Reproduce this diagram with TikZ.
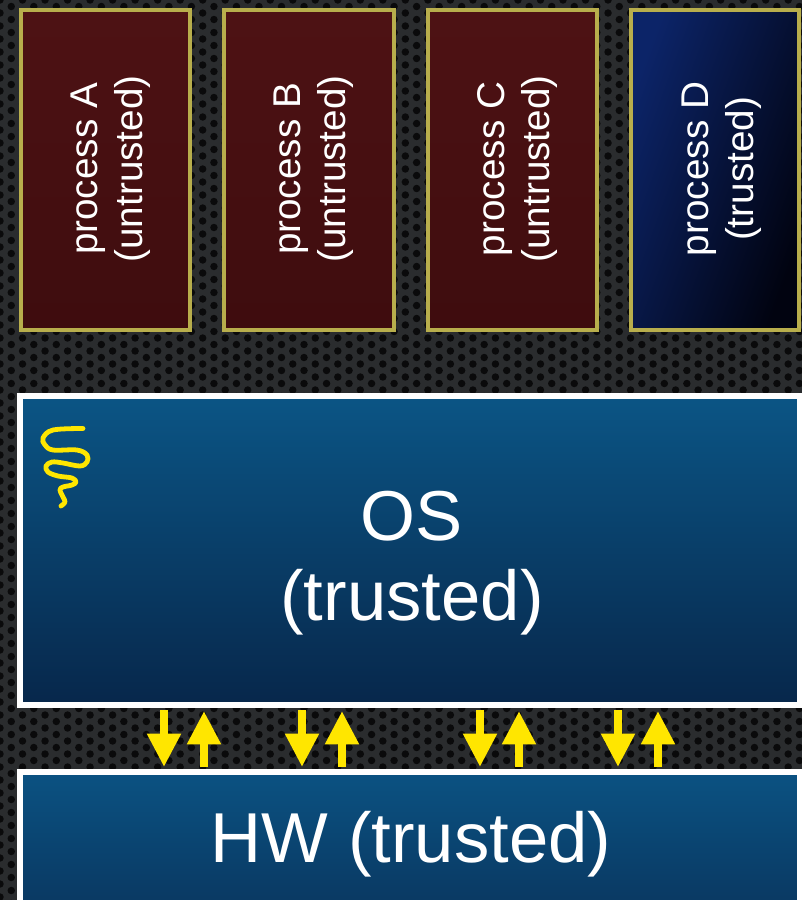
\documentclass[tikz,border=0pt]{standalone}
\usepackage{fontspec}
\setmainfont{Liberation Sans}
\usetikzlibrary{arrows.meta,fit}
\definecolor{bgbase}{HTML}{2A2C2E}
\definecolor{bgdot}{HTML}{0A0A0B}
\definecolor{procborder}{HTML}{B8AE4C}
\definecolor{redtop}{HTML}{4E1214}
\definecolor{redbot}{HTML}{3E0C0E}
\definecolor{bluetop}{HTML}{0C2468}
\definecolor{bluebot}{HTML}{010310}
\definecolor{ostop}{HTML}{0B5585}
\definecolor{osbot}{HTML}{07274B}
\definecolor{hwtop}{HTML}{0B5282}
\definecolor{hwbot}{HTML}{092E55}
\definecolor{arrowyellow}{HTML}{FFE600}
\tikzset{
  procbox/.style={draw=procborder, line width=3pt, inner sep=0pt},
  redfill/.style={top color=redtop, bottom color=redbot},
  bluefill/.style={top color=bluetop, bottom color=bluebot, shading angle=70},
  layerbox/.style={draw=white, line width=4.5pt, inner sep=0pt},
  ptext/.style={text=white, font=\fontsize{29}{35}\selectfont, inner sep=0pt, rotate=90, anchor=base},
  btext/.style={text=white, font=\fontsize{53}{60}\selectfont, inner sep=0pt, anchor=base},
  yarrow/.style={draw=arrowyellow, line width=6pt, -{Triangle[width=24pt,length=25pt]}},
  squig/.style={draw=arrowyellow, line width=3.6pt, line cap=round, line join=round}
}
\begin{document}
\begin{tikzpicture}[x=0.75pt,y=-0.75pt]
\useasboundingbox (0,0) rectangle (802,900);
\clip (0,0) rectangle (802,900);
\fill[bgbase] (0,0) rectangle (802,900);
\foreach \i in {0,...,71} {
  \foreach \j in {0,...,70} {
    \fill[bgdot] ({\i*11.26},{\j*13+mod(\i,2)*6.5}) circle (2.8pt);
  }
}
% process boxes
\node[procbox, redfill, fit={(20.5,9.5)(190,329.5)}] (pa) {};
\node[procbox, redfill, fit={(224,9.5)(393.5,329.5)}] (pb) {};
\node[procbox, redfill, fit={(427.5,9.5)(597,329.5)}] (pc) {};
\node[procbox, bluefill, fit={(631,9.5)(798.5,329.5)}] (pd) {};
\node[ptext] (pa1) at (97,169) {process A};
\node[ptext] (pa2) at (142,169) {(untrusted)};
\node[ptext] (pb1) at (300.5,169) {process B};
\node[ptext] (pb2) at (345.5,169) {(untrusted)};
\node[ptext] (pc1) at (504,169) {process C};
\node[ptext] (pc2) at (549,169) {(untrusted)};
\node[ptext] (pd1) at (708,169) {process D};
\node[ptext] (pd2) at (753,169) {(trusted)};
% OS and HW
\node[layerbox, top color=ostop, bottom color=osbot, fit={(20,396)(800,705)}] (os) {};
\node[layerbox, top color=hwtop, bottom color=hwbot, fit={(20,772)(800,960)}] (hw) {};
\node[btext] (os1) at (412,540) {OS};
\node[btext] (os2) at (412,620) {(trusted)};
\node[btext] (hw1) at (411,862) {HW (trusted)};
% squiggle
\draw[squig] plot[smooth, tension=0.6] coordinates {(83,428.5) (53,430) (43,438) (45,445) (53,450) (77,450) (87,455) (87,462) (80,466) (63,463) (52,462) (46,466) (48,472) (58,476) (72,478) (76,482) (72,485) (63,487) (60,490) (63,497) (65,502) (61,506)};
% arrows between OS and HW
\foreach \x [count=\k] in {164,302,480,618} {
  \coordinate (dt\k) at (\x,710);
  \coordinate (db\k) at (\x,767);
  \draw[yarrow] (dt\k) -- (db\k);
}
\foreach \x [count=\k] in {204,342,519,658} {
  \coordinate (ub\k) at (\x,767);
  \coordinate (ut\k) at (\x,711);
  \draw[yarrow] (ub\k) -- (ut\k);
}
\end{tikzpicture}
\end{document}
